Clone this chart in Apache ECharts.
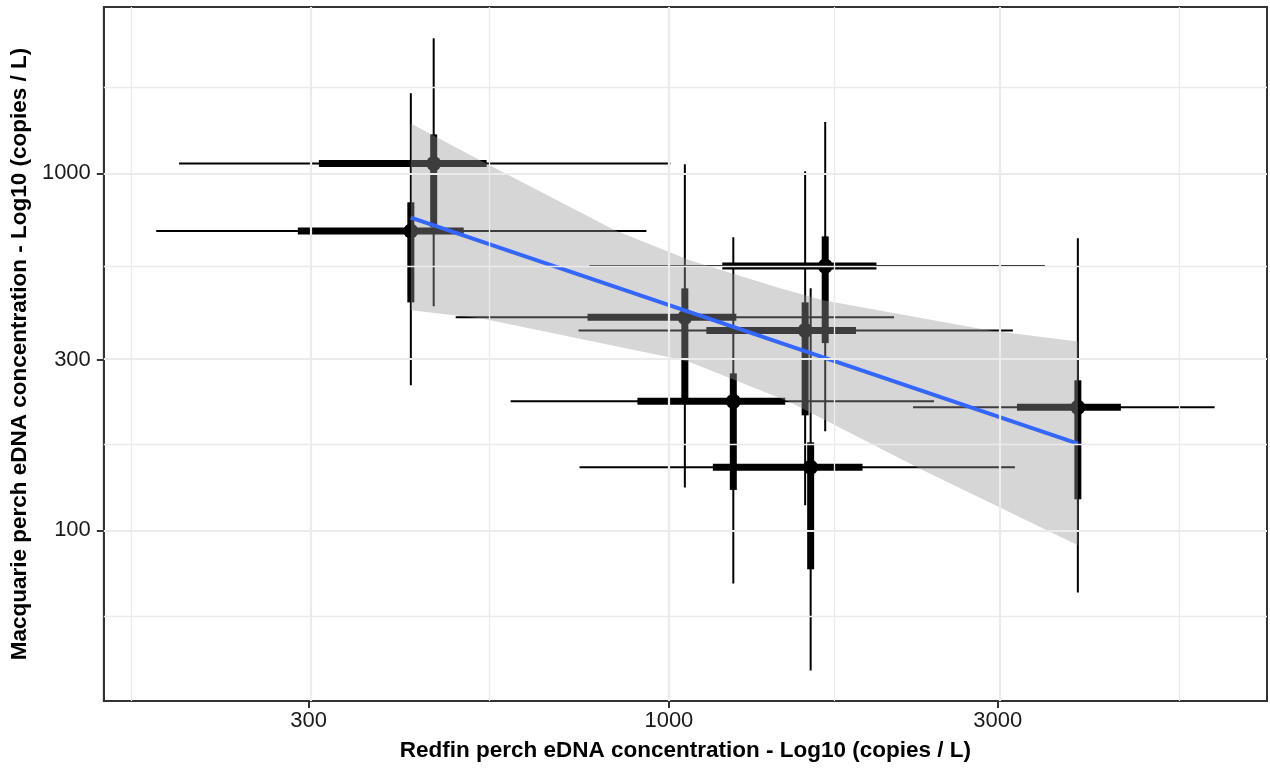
<!DOCTYPE html>
<html><head><meta charset="utf-8">
<script src="https://cdn.jsdelivr.net/npm/echarts@6/dist/echarts.min.js"></script>
<style>html,body{margin:0;padding:0;background:#fff}#c{width:1270px;height:769px}</style>
</head><body><div id="c"></div>
<script>
// Redfin perch eDNA (x) posterior summaries per site
const redfinMedian = [455.7, 422.2, 1054.8, 1240.2, 1576.7, 1686, 1606, 3922];
const redfinLo95   = [194.6, 180.3, 490.5, 589.3, 739.4, 767.1, 741.9, 2261];
const redfinHi95   = [1005, 927.7, 2122, 2426, 3157, 3513, 3178, 6194];
const redfinLo50   = [310.5, 289.4, 762.0, 900.2, 1133.4, 1195.4, 1158.3, 3200];
const redfinHi50   = [543.9, 503.8, 1252.7, 1475, 1869, 2001, 1910, 4528];
// Macquarie perch eDNA (y)
const macqMedian = [1065, 689.2, 395.1, 229.8, 363.2, 549.9, 150.2, 221.1];
const macqLo95   = [424.1, 254.8, 131.9, 71.0, 117.5, 189.4, 40.5, 67.0];
const macqHi95   = [2389, 1676, 1060, 661.9, 1013, 1392, 476.3, 657.6];
const macqLo50   = [706, 435.1, 234.3, 129.8, 210.0, 334.6, 77.8, 122.2];
const macqHi50   = [1286, 829.6, 476.3, 275.3, 435.1, 666, 176.4, 263.2];
// Linear fit and its confidence band
const fitX = [422.2, 3922];
const fitY = [751.4, 175];
const bandUpperX = [422.2, 542.2, 836.5, 1074.5, 1450.5, 1674.6, 2924, 3922];
const bandUpperY = [1380, 1066.6, 692.2, 570.5, 476.3, 440.9, 363.2, 338.3];
const bandLowerX = [422.2, 533.2, 1005, 1074.5, 1500, 2338, 3922];
const bandLowerY = [413.3, 392.5, 305.1, 295.5, 228.3, 147.3, 90.8];
// Ticks and grid lines
const xTicks = [300, 1000, 3000];
const yTicks = [100, 300, 1000];
const xMinor = [164.2, 547.7, 1732, 5477];
const yMinor = [57.7, 173.2, 547.7, 1732];

const L = Math.log10;
const chart = echarts.init(document.getElementById('c'), null, {renderer: 'canvas'});

const errData = redfinMedian.map((v, i) => [
  L(v), L(macqMedian[i]),
  L(redfinLo95[i]), L(redfinHi95[i]), L(redfinLo50[i]), L(redfinHi50[i]),
  L(macqLo95[i]), L(macqHi95[i]), L(macqLo50[i]), L(macqHi50[i])
]);

const gridLines = [];
xTicks.forEach(v => gridLines.push({xAxis: L(v), lineStyle: {color: '#EBEBEB', width: 2.2, type: 'solid'}}));
xMinor.forEach(v => gridLines.push({xAxis: L(v), lineStyle: {color: '#EBEBEB', width: 1.3, type: 'solid'}}));
yTicks.forEach(v => gridLines.push({yAxis: L(v), lineStyle: {color: '#EBEBEB', width: 2.2, type: 'solid'}}));
yMinor.forEach(v => gridLines.push({yAxis: L(v), lineStyle: {color: '#EBEBEB', width: 1.3, type: 'solid'}}));

const fontFam = '"Liberation Sans", Arial, sans-serif';

chart.setOption({
  animation: false,
  grid: {left: 103, top: 7, width: 1164, height: 694, show: true, borderColor: '#333333', borderWidth: 2, backgroundColor: '#ffffff'},
  xAxis: {
    type: 'value', min: 2.180, max: 3.868,
    splitLine: {show: false},
    axisLine: {show: true, lineStyle: {color: '#333333', width: 2}},
    axisTick: {show: true, customValues: xTicks.map(L), length: 7, lineStyle: {color: '#333333', width: 2}},
    axisLabel: {customValues: xTicks.map(L), formatter: v => String(Math.round(Math.pow(10, v))),
      color: '#1A1A1A', fontSize: 22, fontFamily: fontFam, margin: 9},
    name: 'Redfin perch eDNA concentration - Log10 (copies / L)',
    nameLocation: 'middle', nameGap: 38,
    nameTextStyle: {fontWeight: 'bold', fontSize: 22.5, color: '#000', fontFamily: fontFam}
  },
  yAxis: {
    type: 'value', min: 1.522, max: 3.466,
    splitLine: {show: false},
    axisLine: {show: true, lineStyle: {color: '#333333', width: 2}},
    axisTick: {show: true, customValues: yTicks.map(L), length: 7, lineStyle: {color: '#333333', width: 2}},
    axisLabel: {customValues: yTicks.map(L), formatter: v => String(Math.round(Math.pow(10, v))),
      color: '#1A1A1A', fontSize: 22, fontFamily: fontFam, margin: 13},
    name: 'Macquarie perch eDNA concentration - Log10 (copies / L)',
    nameLocation: 'middle', nameGap: 72, nameRotate: 90,
    nameTextStyle: {fontWeight: 'bold', fontSize: 22.5, color: '#000', fontFamily: fontFam}
  },
  series: [
    {
      type: 'line', data: [[3, 2.5]], showSymbol: false, silent: true, z: 1,
      lineStyle: {opacity: 0},
      markLine: {silent: true, symbol: ['none', 'none'], label: {show: false}, animation: false, data: gridLines}
    },
    {
      type: 'custom', z: 2, silent: true, data: errData,
      renderItem: function (params, api) {
        const c = api.coord([api.value(0), api.value(1)]);
        const xl95 = api.coord([api.value(2), api.value(1)])[0];
        const xh95 = api.coord([api.value(3), api.value(1)])[0];
        const xl50 = api.coord([api.value(4), api.value(1)])[0];
        const xh50 = api.coord([api.value(5), api.value(1)])[0];
        const yl95 = api.coord([api.value(0), api.value(6)])[1];
        const yh95 = api.coord([api.value(0), api.value(7)])[1];
        const yl50 = api.coord([api.value(0), api.value(8)])[1];
        const yh50 = api.coord([api.value(0), api.value(9)])[1];
        const thin = {stroke: '#000', lineWidth: 2};
        const thick = {stroke: '#000', lineWidth: 7};
        return {
          type: 'group',
          children: [
            {type: 'line', shape: {x1: xl95, y1: c[1], x2: xh95, y2: c[1]}, style: thin},
            {type: 'line', shape: {x1: c[0], y1: yl95, x2: c[0], y2: yh95}, style: thin},
            {type: 'line', shape: {x1: xl50, y1: c[1], x2: xh50, y2: c[1]}, style: thick},
            {type: 'line', shape: {x1: c[0], y1: yl50, x2: c[0], y2: yh50}, style: thick},
            {type: 'circle', shape: {cx: c[0], cy: c[1], r: 7.5}, style: {fill: '#000'}}
          ]
        };
      }
    },
    {
      type: 'custom', z: 3, silent: true, data: [[3, 2.5]],
      renderItem: function (params, api) {
        const pts = [];
        bandUpperX.forEach((x, i) => pts.push(api.coord([L(x), L(bandUpperY[i])])));
        for (let i = bandLowerX.length - 1; i >= 0; i--) pts.push(api.coord([L(bandLowerX[i]), L(bandLowerY[i])]));
        return {type: 'polygon', shape: {points: pts, smooth: 0}, style: {fill: 'rgba(153,153,153,0.4)'}};
      }
    },
    {
      type: 'line', z: 4, silent: true, showSymbol: false,
      data: fitX.map((x, i) => [L(x), L(fitY[i])]),
      lineStyle: {color: '#3366FF', width: 4}
    }
  ]
});
</script>
</body></html>
